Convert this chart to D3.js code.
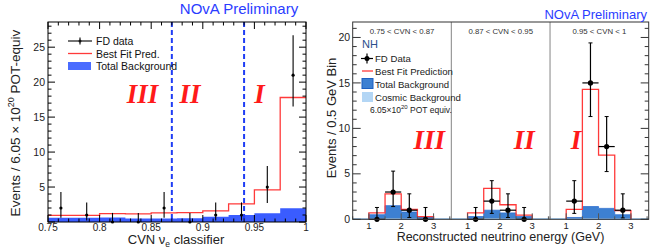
<!DOCTYPE html>
<html><head><meta charset="utf-8">
<script src="https://cdn.jsdelivr.net/npm/d3@7"></script>
<style>body{margin:0;background:#fff}svg{display:block;font-family:"Liberation Sans",Arial,sans-serif}</style>
</head><body><svg id="c" width="654" height="250"></svg>
<script>
// ---------- LEFT PANEL DATA (CVN classifier) ----------
const cvnBinEdges = [0.75,0.775,0.8,0.825,0.85,0.875,0.9,0.925,0.95,0.975,1.0];
const cvnPred =      [0.95,0.95,1.2,1.15,1.3,1.35,1.6,2.6,4.6,17.8];
const cvnBkg =       [0.6,0.6,0.65,0.5,0.5,0.55,0.75,1.0,1.25,1.95];
const cvnData =      [2,1,0,0,2,0,1,1,5,21];
const cvnErrHigh =   [2.3,1.8,1.3,1.3,2.3,1.3,1.8,1.8,3.0,5.7];
const cvnErrLow =    [1.4,0.8,0,0,1.4,0,0.8,0.8,2.3,4.5];
const cvnCuts = [0.87, 0.94];
const cvnXTicks = [0.75,0.8,0.85,0.9,0.95,1];
const cvnYTicks = [5,10,15,20,25];

// ---------- RIGHT PANEL DATA (energy in 3 CVN bins) ----------
const panelLabels = ["0.75 < CVN < 0.87","0.87 < CVN < 0.95","0.95 < CVN < 1"];
const panelNumerals = ["III","II","I"];
const eBinEdges = [1.0,1.5,2.0,2.5,3.0];
const ePred = [[0.7,2.8,1.1,0.3],[0.7,3.4,1.6,0.45],[1.1,14.3,7.05,0.95]];
const eBkg  = [[0.5,1.5,0.8,0.25],[0.3,1.0,0.7,0.3],[0.2,1.4,1.2,0.5]];
const eCosmic = [[0.1,0.12,0.1,0.08],[0.1,0.12,0.1,0.08],[0.1,0.12,0.1,0.08]];
const eData = [[0,3,1,0],[0,2,1,0],[2,15,8,1]];
const eErrHigh = [[1.3,2.3,1.8,1.3],[1.3,2.25,1.8,1.3],[2.25,4.4,3.3,1.8]];
const eErrLow  = [[0,1.6,0.8,0],[0,1.35,0.8,0],[1.35,3.7,2.75,0.85]];
const eXTicks = [1,2,3];
const eYTicks = [0,5,10,15,20];

const svg = d3.select("#c");
const BLUE_L = "#3a5cff", RED = "#ff3a3a";
const SERIF = "'Liberation Serif','Times New Roman',serif";

// ================= LEFT PANEL =================
const L = {x0:48, x1:306, y0:22, y1:222};
const xL = d3.scaleLinear().domain([0.75,1]).range([L.x0,L.x1]);
const yL = d3.scaleLinear().domain([0,28.6]).range([L.y1,L.y0]);
const gL = svg.append("g");
const binsL = cvnData.map((d,i)=>({x0:cvnBinEdges[i],x1:cvnBinEdges[i+1],pred:cvnPred[i],bkg:cvnBkg[i],d,eh:cvnErrHigh[i],el:cvnErrLow[i]}));

const areaStep = (bins, key, xs, ys) => {
  const pts=[];
  bins.forEach(b=>{pts.push([xs(b.x0),ys(b[key])]);pts.push([xs(b.x1),ys(b[key])]);});
  return "M"+xs(bins[0].x0)+","+ys(0)+"L"+pts.map(p=>p.join(",")).join("L")+"L"+xs(bins[bins.length-1].x1)+","+ys(0)+"Z";
};
const lineStep = (bins, key, xs, ys, closed) => {
  const pts=[];
  if(closed) pts.push([xs(bins[0].x0),ys(0)]);
  bins.forEach(b=>{pts.push([xs(b.x0),ys(b[key])]);pts.push([xs(b.x1),ys(b[key])]);});
  if(closed) pts.push([xs(bins[bins.length-1].x1),ys(0)]);
  return "M"+pts.map(p=>p.join(",")).join("L");
};
gL.append("path").attr("d",areaStep(binsL,"bkg",xL,yL)).attr("fill",BLUE_L);
gL.append("path").attr("d",lineStep(binsL,"pred",xL,yL,false)).attr("fill","none").attr("stroke",RED).attr("stroke-width",1.3);
gL.selectAll(".cut").data(cvnCuts).join("line")
  .attr("x1",d=>xL(d)).attr("x2",d=>xL(d)).attr("y1",L.y0).attr("y2",L.y1)
  .attr("stroke","#1f3df5").attr("stroke-width",2).attr("stroke-dasharray","5,3");
binsL.forEach(b=>{
  const cx = xL((b.x0+b.x1)/2);
  gL.append("line").attr("x1",cx).attr("x2",cx).attr("y1",yL(b.d+b.eh)).attr("y2",yL(Math.max(0,b.d-b.el))).attr("stroke","#000").attr("stroke-width",1.1);
  gL.append("circle").attr("cx",cx).attr("cy",yL(b.d)).attr("r",1.6).attr("fill","#000");
});
gL.append("rect").attr("x",L.x0).attr("y",L.y0).attr("width",L.x1-L.x0).attr("height",L.y1-L.y0).attr("fill","none").attr("stroke","#000").attr("stroke-width",1);
d3.range(0.75,1.0001,0.01).forEach(v=>{
  const major = cvnXTicks.some(t=>Math.abs(t-v)<1e-6);
  const len = major?7:3.5;
  gL.append("line").attr("x1",xL(v)).attr("x2",xL(v)).attr("y1",L.y1).attr("y2",L.y1-len).attr("stroke","#000");
  gL.append("line").attr("x1",xL(v)).attr("x2",xL(v)).attr("y1",L.y0).attr("y2",L.y0+len).attr("stroke","#000");
});
d3.range(0,28.6,1).forEach(v=>{
  const major = v%5===0;
  const len = major?7:3.5;
  gL.append("line").attr("x1",L.x0).attr("x2",L.x0+len).attr("y1",yL(v)).attr("y2",yL(v)).attr("stroke","#000");
  gL.append("line").attr("x1",L.x1).attr("x2",L.x1-len).attr("y1",yL(v)).attr("y2",yL(v)).attr("stroke","#000");
});
gL.selectAll(".xt").data(cvnXTicks).join("text").attr("x",d=>xL(d)).attr("y",L.y1+8.8).attr("text-anchor","middle").attr("font-size",10).attr("fill","#222").text(d3.format("~g"));
gL.selectAll(".yt").data(cvnYTicks).join("text").attr("x",L.x0-3).attr("y",d=>yL(d)+3.6).attr("text-anchor","end").attr("font-size",10.5).attr("fill","#222").text(d=>d);
const xt = gL.append("text").attr("x",176).attr("y",244).attr("text-anchor","middle").attr("font-size",13).attr("fill","#222");
xt.append("tspan").text("CVN ν");
xt.append("tspan").attr("font-size",8.5).attr("dy",3).text("e");
xt.append("tspan").attr("dy",-3).text(" classifier");
const yt = gL.append("text").attr("transform","translate(20,123) rotate(-90)").attr("text-anchor","middle").attr("font-size",13.5).attr("fill","#222");
yt.append("tspan").text("Events / 6.05 × 10");
yt.append("tspan").attr("font-size",9).attr("dy",-6).text("20");
yt.append("tspan").attr("dy",6).text(" POT-equiv");
gL.append("text").attr("x",239).attr("y",14).attr("text-anchor","middle").attr("font-size",15).attr("fill","#2b3cff").text("NOvA Preliminary");
const numL = [["III",0.8415],["II",0.8875],["I",0.955]];
gL.selectAll(".num").data(numL).join("text").attr("x",d=>xL(d[1])).attr("y",103)
  .attr("text-anchor","middle").style("font-family",SERIF).style("font-weight","bold").style("font-style","italic").attr("font-size",27).attr("fill","#ff1a1a").text(d=>d[0]);
const lg = gL.append("g").attr("font-size",10.5).attr("fill","#111");
lg.append("line").attr("x1",68).attr("x2",92).attr("y1",41).attr("y2",41).attr("stroke","#000").attr("stroke-width",1.1);
lg.append("line").attr("x1",80).attr("x2",80).attr("y1",37.5).attr("y2",44.5).attr("stroke","#000").attr("stroke-width",1.1);
lg.append("circle").attr("cx",80).attr("cy",41).attr("r",1.5);
lg.append("text").attr("x",96).attr("y",45).text("FD data");
lg.append("line").attr("x1",68).attr("x2",92).attr("y1",53.5).attr("y2",53.5).attr("stroke",RED).attr("stroke-width",1.3);
lg.append("text").attr("x",96).attr("y",57.5).text("Best Fit Pred.");
lg.append("rect").attr("x",68).attr("y",62).attr("width",23).attr("height",8).attr("fill","#4a6cff");
lg.append("text").attr("x",96).attr("y",70).text("Total Background");

// ================= RIGHT PANEL =================
const R = {x0:352.7, x1:648.7, y0:22, y1:219.3};
const PW = 3.05;
const xR = d3.scaleLinear().domain([0,3*PW]).range([R.x0,R.x1]);
const yR = d3.scaleLinear().domain([0,21.7]).range([R.y1,R.y0]);
const eX = (p,e)=>xR(p*PW + e - 0.5);
const gR = svg.append("g");

gR.append("line").attr("x1",R.x0).attr("x2",R.x1).attr("y1",yR(0)-0.5).attr("y2",yR(0)-0.5).attr("stroke","#a9cff2").attr("stroke-width",1.5);

for(let p=0;p<3;p++){
  const bins = eData[p].map((d,i)=>({x0:p*PW+eBinEdges[i]-0.5,x1:p*PW+eBinEdges[i+1]-0.5,pred:ePred[p][i],bkg:eBkg[p][i],cos:eCosmic[p][i],d,eh:eErrHigh[p][i],el:eErrLow[p][i]}));
  gR.append("path").attr("d",areaStep(bins,"bkg",xR,yR)).attr("fill","#3d80d2").attr("stroke","#2f6fd0").attr("stroke-width",0.8);
  gR.append("path").attr("d",areaStep(bins,"cos",xR,yR)).attr("fill","#a9cff2");
  gR.append("path").attr("d",lineStep(bins,"pred",xR,yR,true)).attr("fill","none").attr("stroke",RED).attr("stroke-width",1.3);
  bins.forEach(b=>{
    const cx = xR((b.x0+b.x1)/2), cy = yR(b.d);
    gR.append("line").attr("x1",cx).attr("x2",cx).attr("y1",yR(b.d+b.eh)).attr("y2",yR(Math.max(0,b.d-b.el))).attr("stroke","#000").attr("stroke-width",1.2);
    gR.append("line").attr("x1",xR(b.x0)).attr("x2",xR(b.x1)).attr("y1",cy).attr("y2",cy).attr("stroke","#000").attr("stroke-width",1.2);
    gR.append("line").attr("x1",cx-2).attr("x2",cx+2).attr("y1",yR(b.d+b.eh)).attr("y2",yR(b.d+b.eh)).attr("stroke","#000").attr("stroke-width",1);
    if(b.d-b.el>0) gR.append("line").attr("x1",cx-2).attr("x2",cx+2).attr("y1",yR(b.d-b.el)).attr("y2",yR(b.d-b.el)).attr("stroke","#000").attr("stroke-width",1);
    gR.append("circle").attr("cx",cx).attr("cy",cy).attr("r",2.6).attr("fill","#000");
  });
  d3.range(0.5,3.51,0.5).forEach(e=>{
    const major = Number.isInteger(e);
    gR.append("line").attr("x1",eX(p,e)).attr("x2",eX(p,e)).attr("y1",R.y1).attr("y2",R.y1-(major?6:3)).attr("stroke","#555");
  });
  eXTicks.forEach(e=>gR.append("text").attr("x",eX(p,e)).attr("y",R.y1+9.3).attr("text-anchor","middle").attr("font-size",9.5).attr("fill","#222").text(e));
  gR.append("text").attr("x",xR(p*PW+PW/2)).attr("y",33.5).attr("text-anchor","middle").attr("font-size",7.8).attr("fill","#333").text(panelLabels[p]);
  if(p>0) gR.append("line").attr("x1",xR(p*PW)).attr("x2",xR(p*PW)).attr("y1",R.y0).attr("y2",R.y1).attr("stroke","#999").attr("stroke-width",1.2);
}
const numR = [["III",0,2.37],["II",1,2.25],["I",2,0.8]];
gR.selectAll(".numr").data(numR).join("text").attr("x",d=>xR(d[1]*PW+d[2])).attr("y",149)
  .attr("text-anchor","middle").style("font-family",SERIF).style("font-weight","bold").style("font-style","italic").attr("font-size",27).attr("fill","#ff1a1a").text(d=>d[0]);
gR.append("rect").attr("x",R.x0).attr("y",R.y0).attr("width",R.x1-R.x0).attr("height",R.y1-R.y0).attr("fill","none").attr("stroke","#333").attr("stroke-width",1);
d3.range(0,21.7,1).forEach(v=>{
  const major = v%5===0; const len = major?8:4;
  gR.append("line").attr("x1",R.x0).attr("x2",R.x0+len).attr("y1",yR(v)).attr("y2",yR(v)).attr("stroke","#333");
  gR.append("line").attr("x1",R.x1).attr("x2",R.x1-len).attr("y1",yR(v)).attr("y2",yR(v)).attr("stroke","#333");
});
gR.selectAll(".ytr").data(eYTicks).join("text").attr("x",R.x0-2.5).attr("y",d=>yR(d)+3.6).attr("text-anchor","end").attr("font-size",10.5).attr("fill","#222").text(d=>d);
gR.append("text").attr("x",500.5).attr("y",241).attr("text-anchor","middle").attr("font-size",12.5).attr("fill","#222").text("Reconstructed neutrino energy (GeV)");
gR.append("text").attr("transform","translate(336,118) rotate(-90)").attr("text-anchor","middle").attr("font-size",13).attr("fill","#222").text("Events / 0.5 GeV Bin");
gR.append("text").attr("x",647).attr("y",18.5).attr("text-anchor","end").attr("font-size",13).attr("fill","#2b3cff").text("NOvA Preliminary");
const lr = gR.append("g").attr("font-size",9.6).attr("fill","#222");
lr.append("text").attr("x",362).attr("y",48).attr("font-size",11).attr("fill","#2c4f8c").text("NH");
lr.append("line").attr("x1",361).attr("x2",373).attr("y1",58.5).attr("y2",58.5).attr("stroke","#000").attr("stroke-width",1.2);
lr.append("line").attr("x1",367).attr("x2",367).attr("y1",53.5).attr("y2",63.5).attr("stroke","#000").attr("stroke-width",1.2);
lr.append("circle").attr("cx",367).attr("cy",58.5).attr("r",2.5).attr("fill","#000");
lr.append("text").attr("x",375).attr("y",62).text("FD Data");
lr.append("line").attr("x1",362).attr("x2",373).attr("y1",71).attr("y2",71).attr("stroke",RED).attr("stroke-width",1.3);
lr.append("text").attr("x",375).attr("y",74.5).text("Best Fit Prediction");
lr.append("rect").attr("x",362).attr("y",78.5).attr("width",11).attr("height",10).attr("fill","#3d80d2").attr("stroke","#1d5fc0").attr("stroke-width",1);
lr.append("text").attr("x",375).attr("y",87.5).text("Total Background");
lr.append("rect").attr("x",362).attr("y",92).attr("width",11).attr("height",10).attr("fill","#b3d6f5");
lr.append("text").attr("x",375).attr("y",100.5).text("Cosmic Background");
const pot = lr.append("text").attr("x",370).attr("y",113).attr("font-size",8.5);
pot.append("tspan").text("6.05×10");
pot.append("tspan").attr("font-size",6).attr("dy",-4).text("20");
pot.append("tspan").attr("dy",4).text(" POT equiv.");
</script></body></html>
